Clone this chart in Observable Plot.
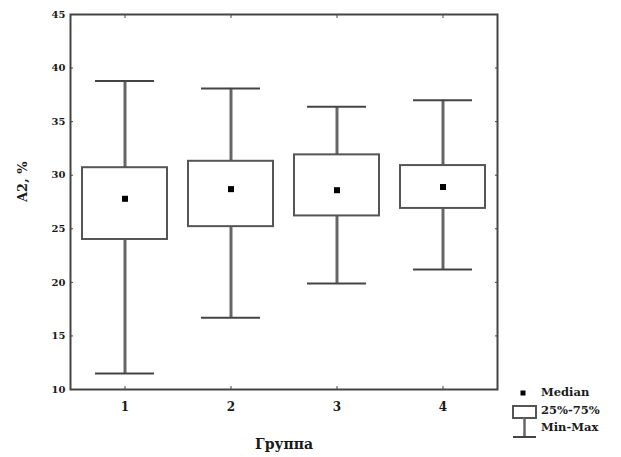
<!DOCTYPE html>
<html>
<head>
<meta charset="utf-8">
<script src="https://cdn.jsdelivr.net/npm/d3@7"></script>
<script src="https://cdn.jsdelivr.net/npm/@observablehq/plot@0.6"></script>
<style>
  html, body { margin: 0; padding: 0; background: #fff; }
  #wrap { position: relative; width: 621px; height: 457px; font-family: "DejaVu Serif", "Liberation Serif", serif; }
  #legend { position: absolute; left: 508px; top: 383px; width: 112px; height: 60px; }
  #legend svg { position: absolute; left: 0; top: 0; overflow: visible; }
  #legend .t { position: absolute; left: 33px; font-size: 11.5px; font-weight: bold; color: #1a1a1a; line-height: 13px; white-space: nowrap; }
</style>
</head>
<body>
<div id="wrap"></div>
<script>
// A2 distribution by group: min, quartiles, median, max
const groups  = [1, 2, 3, 4];
const mins    = [11.5, 16.7, 19.9, 21.2];
const q1s     = [24.0, 25.2, 26.2, 26.9];
const medians = [27.8, 28.7, 28.6, 28.9];
const q3s     = [30.7, 31.3, 31.9, 30.9];
const maxs    = [38.8, 38.1, 36.4, 37.0];
const yTicks  = [10, 15, 20, 25, 30, 35, 40, 45];

const rows = groups.map((g, i) => ({
  g, min: mins[i], q1: q1s[i], med: medians[i], q3: q3s[i], max: maxs[i]
}));

const font = `"DejaVu Serif", "Liberation Serif", serif`;
const ink = "#555";

const chart = Plot.plot({
  width: 621,
  height: 457,
  marginLeft: 70,
  marginRight: 124,
  marginTop: 14,
  marginBottom: 68,
  style: { fontFamily: font, fontWeight: "bold", background: "#fff", color: "#1a1a1a" },
  x: { type: "band", domain: groups, paddingInner: 0.2, paddingOuter: 0.1 },
  y: { domain: [10, 45] },
  marks: [
    // whisker stems
    Plot.ruleX(rows, { x: "g", y1: "min", y2: "max", stroke: "#666", strokeWidth: 3 }),
    // whisker caps
    Plot.tickY(rows, { x: "g", y: "min", stroke: "#444", strokeWidth: 2, insetLeft: 13, insetRight: 13 }),
    Plot.tickY(rows, { x: "g", y: "max", stroke: "#444", strokeWidth: 2, insetLeft: 13, insetRight: 13 }),
    // interquartile boxes
    Plot.barY(rows, { x: "g", y1: "q1", y2: "q3", fill: "#fff", stroke: ink, strokeWidth: 2 }),
    // medians
    Plot.dot(rows, { x: "g", y: "med", symbol: "square", r: 3.4, fill: "#000", stroke: "none" }),
    Plot.frame({ stroke: "#444", strokeWidth: 2 }),
    Plot.axisY(yTicks, { anchor: "left", tickSize: -3, tickPadding: 8, fontSize: 10, label: null, stroke: "#444" }),
    Plot.axisY(yTicks, { anchor: "right", tickSize: -3, tickFormat: () => "", label: null, stroke: "#444" }),
    Plot.axisX(groups, { anchor: "bottom", tickSize: -3, tickPadding: 16, fontSize: 12, label: null, stroke: "#444" }),
    Plot.axisX(groups, { anchor: "top", tickSize: -3, tickFormat: () => "", label: null, stroke: "#444" }),
    Plot.text(["Группа"], { frameAnchor: "bottom", dy: 59, fontSize: 14, fill: "#1a1a1a" }),
    Plot.text(["A2, %"], { frameAnchor: "left", dx: -48, rotate: -90, fontSize: 13, fill: "#1a1a1a" })
  ]
});

const wrap = document.getElementById("wrap");
wrap.appendChild(chart);

// legend
const legend = document.createElement("div");
legend.id = "legend";
legend.innerHTML = `
  <svg width="30" height="60">
    <rect x="12.5" y="7.5" width="5" height="5" fill="#000"/>
    <rect x="5" y="23" width="23" height="12" fill="#fff" stroke="#555" stroke-width="2"/>
    <line x1="16.5" y1="35" x2="16.5" y2="54" stroke="#666" stroke-width="2.5"/>
    <line x1="5" y1="54" x2="28" y2="54" stroke="#444" stroke-width="2"/>
  </svg>
  <div class="t" style="top:3px">Median</div>
  <div class="t" style="top:21px">25%-75%</div>
  <div class="t" style="top:38px">Min-Max</div>
`;
wrap.appendChild(legend);
</script>
</body>
</html>
